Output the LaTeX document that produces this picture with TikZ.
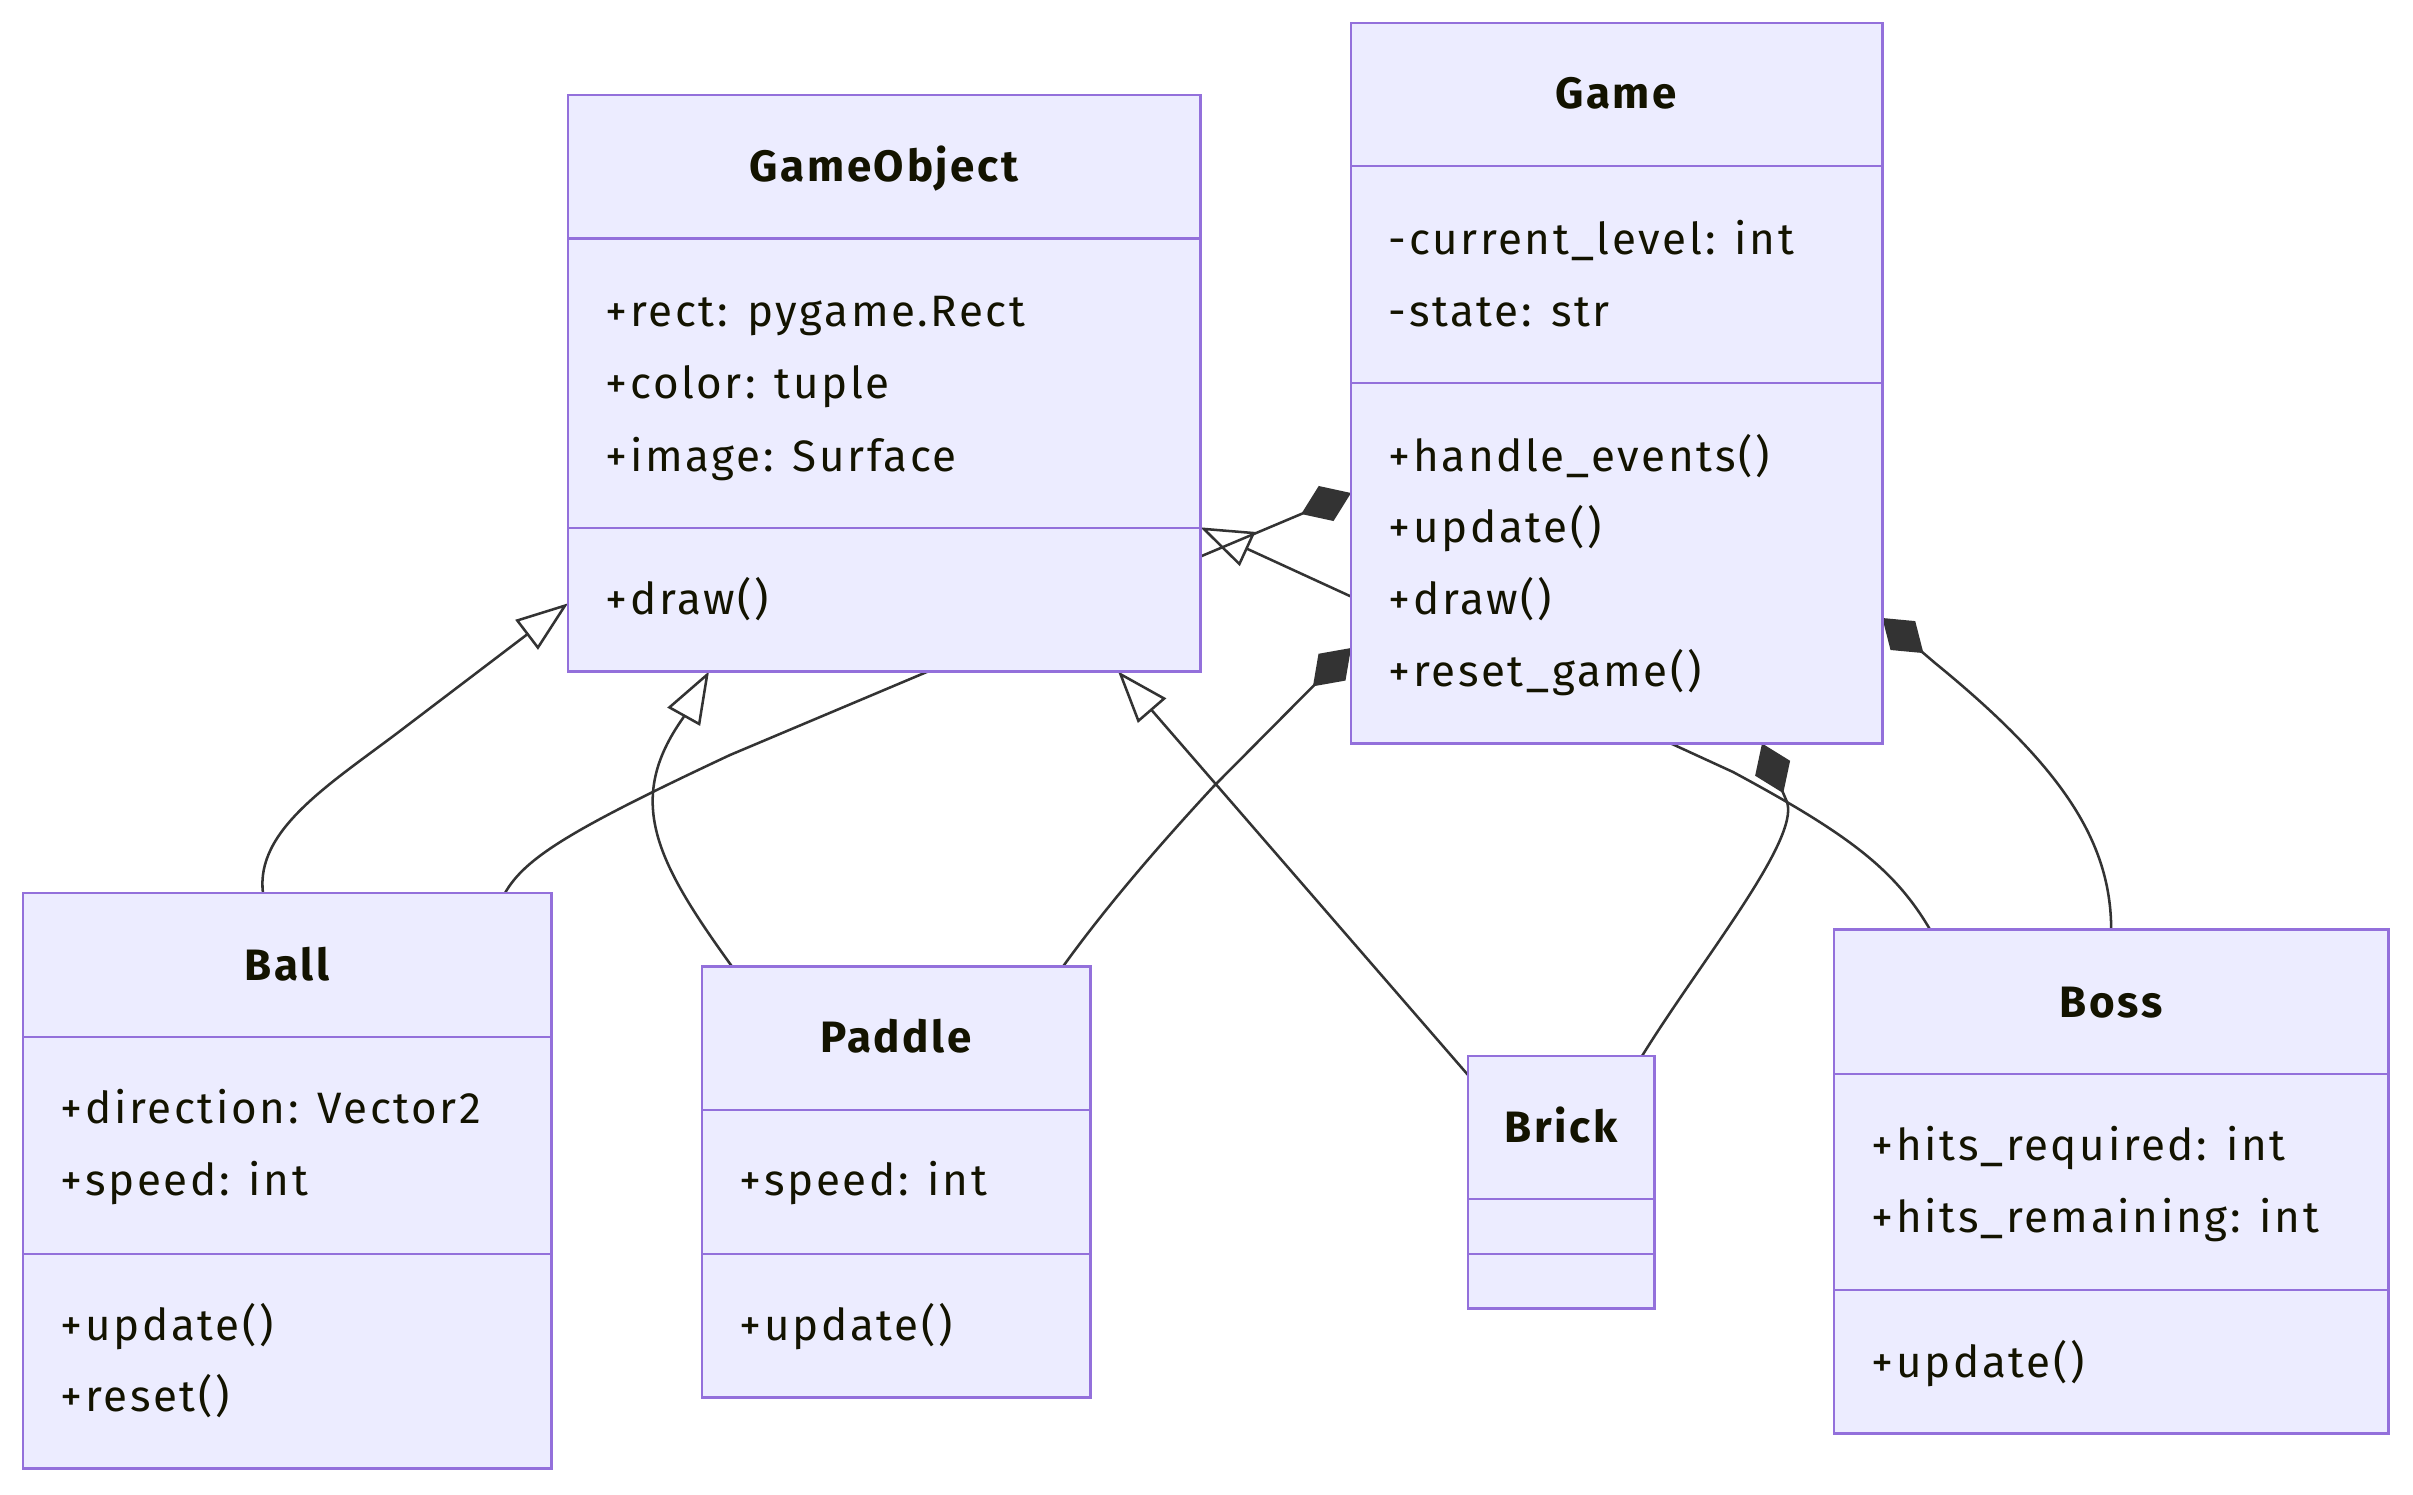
\documentclass[tikz,border=0pt]{standalone}
\usepackage{fontspec}
\setmainfont{Fira Sans}[LetterSpace=6]
\usetikzlibrary{arrows.meta,calc,backgrounds}
\definecolor{boxfill}{HTML}{ECECFF}
\definecolor{boxline}{HTML}{9370DB}
\definecolor{edgecol}{HTML}{333333}
\definecolor{txt}{HTML}{131300}
\begin{document}
\begin{tikzpicture}[x=0.01cm,y=-0.01cm,
 umlbox/.style={draw=boxline, fill=boxfill, line width=0.8pt, inner sep=0pt, outer sep=0pt, anchor=north west},
 divider/.style={draw=boxline, line width=0.8pt},
 mem/.style={anchor=base west, inner sep=0pt, text=txt, font=\fontsize{12.5}{15}\selectfont},
 hdr/.style={anchor=base, inner sep=0pt, text=txt, font=\fontsize{12.5}{15}\selectfont\bfseries},
 conn/.style={draw=edgecol, line width=0.72pt},
 inh/.style={conn, -{Triangle[open, length=0.52cm, width=0.37cm]}},
 comp/.style={conn, -{Diamond[length=0.54cm, width=0.38cm, fill=edgecol, color=edgecol]}},
]
\useasboundingbox (0,0) rectangle (2413,1494);

% ---------- boxes ----------
\node[umlbox, minimum width=6.32cm, minimum height=5.76cm] (go) at (568,95) {};
\node[umlbox, minimum width=5.31cm, minimum height=7.20cm] (game) at (1351,23) {};
\node[umlbox, minimum width=5.28cm, minimum height=5.75cm] (ball) at (23,893) {};
\node[umlbox, minimum width=3.88cm, minimum height=4.305cm] (paddle) at (702,966.5) {};
\node[umlbox, minimum width=1.86cm, minimum height=2.52cm] (brick) at (1468,1056) {};
\node[umlbox, minimum width=5.54cm, minimum height=5.035cm] (boss) at (1834,929.5) {};

% dividers
\draw[divider] (568,238.5) -- (1200,238.5);
\draw[divider] (568,528) -- (1200,528);
\draw[divider] (1351,166) -- (1882,166);
\draw[divider] (1351,383) -- (1882,383);
\draw[divider] (23,1037) -- (551,1037);
\draw[divider] (23,1254) -- (551,1254);
\draw[divider] (702,1110) -- (1090,1110);
\draw[divider] (702,1254) -- (1090,1254);
\draw[divider] (1468,1199) -- (1654,1199);
\draw[divider] (1468,1254) -- (1654,1254);
\draw[divider] (1834,1074) -- (2388,1074);
\draw[divider] (1834,1290) -- (2388,1290);

% ---------- texts ----------
\node[hdr] (go-name) at (884,182) {GameObject};
\node[mem] (go-a1) at (605,326) {+rect: pygame.Rect};
\node[mem] (go-a2) at (605,398) {+color: tuple};
\node[mem] (go-a3) at (605,471) {+image: Surface};
\node[mem] (go-m1) at (605,614) {+draw()};

\node[hdr] (game-name) at (1616,109) {Game};
\node[mem] (game-a1) at (1388,254) {-current\_level: int};
\node[mem] (game-a2) at (1388,326) {-state: str};
\node[mem] (game-m1) at (1388,471) {+handle\_events()};
\node[mem] (game-m2) at (1388,542) {+update()};
\node[mem] (game-m3) at (1388,614) {+draw()};
\node[mem] (game-m4) at (1388,686) {+reset\_game()};

\node[hdr] (ball-name) at (287,980) {Ball};
\node[mem] (ball-a1) at (60,1123) {+direction: Vector2};
\node[mem] (ball-a2) at (60,1195) {+speed: int};
\node[mem] (ball-m1) at (60,1340) {+update()};
\node[mem] (ball-m2) at (60,1411) {+reset()};

\node[hdr] (paddle-name) at (896,1052) {Paddle};
\node[mem] (paddle-a1) at (739,1195) {+speed: int};
\node[mem] (paddle-m1) at (739,1340) {+update()};

\node[hdr] (brick-name) at (1561,1142) {Brick};

\node[hdr] (boss-name) at (2111,1017) {Boss};
\node[mem] (boss-a1) at (1871,1160) {+hits\_required: int};
\node[mem] (boss-a2) at (1871,1232) {+hits\_remaining: int};
\node[mem] (boss-m1) at (1871,1377) {+update()};

% ---------- connectors (behind boxes) ----------
\begin{scope}[on background layer]
\fill[white] (0,0) rectangle (2413,1494);
% Ball --|> GameObject
\draw[inh] ($(ball.north west)+(240,0)$) .. controls (255,830) and (330,784) .. (400,731) -- ($(go.south west)+(0,-68)$);
% Game *-- Ball
\draw[comp] ($(ball.north west)+(482,0)$) .. controls (525,858) and (570,830) .. (730,755) -- ($(game.north west)+(0,470)$);
% Paddle --|> GameObject
\draw[inh] ($(paddle.north west)+(30,0)$) .. controls (655,860) and (625,800) .. (683,718) -- ($(go.south west)+(141,0)$);
% Game *-- Paddle
\draw[comp] ($(paddle.north west)+(361,0)$) .. controls (1100,915) and (1150,855) .. (1213,787) -- ($(game.north west)+(0,625)$);
% Brick --|> GameObject
\draw[inh] ($(brick.north west)+(0,19)$) -- ($(go.south west)+(550,0)$);
% Game *-- Brick
\draw[comp] ($(brick.north west)+(174,0)$) .. controls (1700,962) and (1800,840) .. (1787,802) -- ($(game.south west)+(411,0)$);
% Game *-- Boss
\draw[comp] (boss.north) .. controls (2111,840) and (2060,765) .. (1935,663) -- ($(game.north east)+(0,595)$);
% Boss --|> GameObject
\draw[inh] ($(boss.north west)+(96,0)$) .. controls (1895,870) and (1850,835) .. (1733,772) -- ($(go.south east)+(0,-144)$);
\end{scope}
\end{tikzpicture}
\end{document}
